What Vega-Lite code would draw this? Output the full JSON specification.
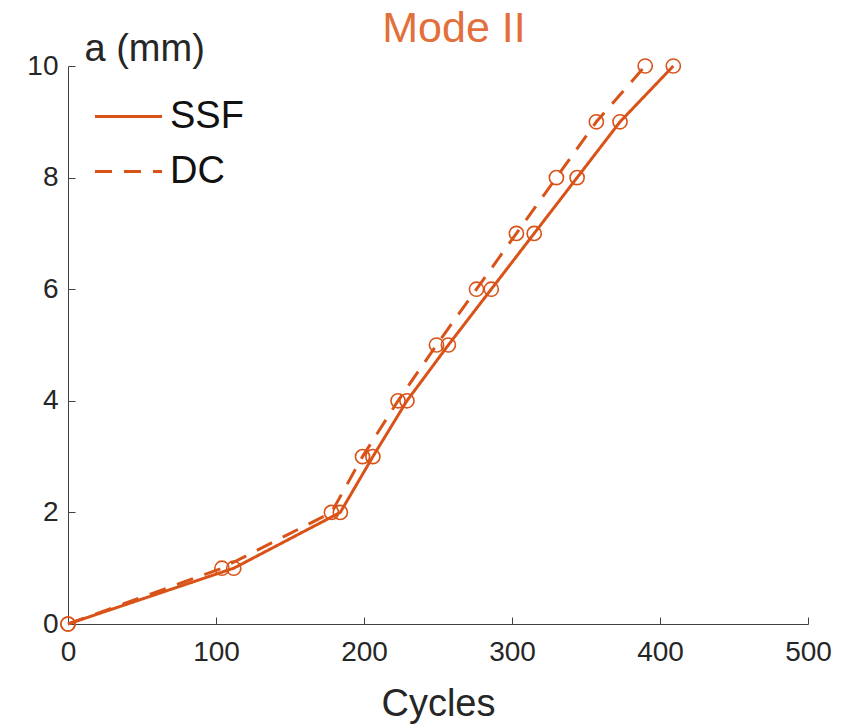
{
  "$schema": "https://vega.github.io/schema/vega-lite/v6.json",
  "width": 740,
  "height": 558,
  "autosize": {"type": "none"},
  "padding": {"left": 68, "top": 66, "right": 46, "bottom": 102},
  "background": "white",
  "title": {"text": "Mode II", "color": "#E2703A", "fontSize": 43, "font": "Liberation Sans", "fontWeight": "normal", "anchor": "middle", "dx": 16, "offset": -21},
  "config": {
    "view": {"stroke": null},
    "font": "Liberation Sans"
  },
  "data": {"values": [
    {"cycles": 0, "a": 0, "series": "SSF"},
    {"cycles": 112, "a": 1, "series": "SSF"},
    {"cycles": 184, "a": 2, "series": "SSF"},
    {"cycles": 206, "a": 3, "series": "SSF"},
    {"cycles": 229, "a": 4, "series": "SSF"},
    {"cycles": 257, "a": 5, "series": "SSF"},
    {"cycles": 286, "a": 6, "series": "SSF"},
    {"cycles": 315, "a": 7, "series": "SSF"},
    {"cycles": 344, "a": 8, "series": "SSF"},
    {"cycles": 373, "a": 9, "series": "SSF"},
    {"cycles": 409, "a": 10, "series": "SSF"},
    {"cycles": 0, "a": 0, "series": "DC"},
    {"cycles": 104, "a": 1, "series": "DC"},
    {"cycles": 178, "a": 2, "series": "DC"},
    {"cycles": 199, "a": 3, "series": "DC"},
    {"cycles": 223, "a": 4, "series": "DC"},
    {"cycles": 249, "a": 5, "series": "DC"},
    {"cycles": 276, "a": 6, "series": "DC"},
    {"cycles": 303, "a": 7, "series": "DC"},
    {"cycles": 330, "a": 8, "series": "DC"},
    {"cycles": 357, "a": 9, "series": "DC"},
    {"cycles": 390, "a": 10, "series": "DC"}
  ]},
  "encoding": {
    "x": {"field": "cycles", "type": "quantitative", "scale": {"domain": [0, 500], "nice": false, "zero": false},
      "axis": {"title": "Cycles", "values": [0, 100, 200, 300, 400, 500], "grid": false, "labelFlush": false, "labelOverlap": false, "tickSize": -7, "tickColor": "#404040", "domainColor": "#404040", "labelFontSize": 28, "labelColor": "#262626", "labelPadding": 21, "titleFontSize": 38, "titleFontWeight": "normal", "titleColor": "#262626", "titlePadding": 19, "labelFont": "Liberation Sans", "titleFont": "Liberation Sans"}},
    "y": {"field": "a", "type": "quantitative", "scale": {"domain": [0, 10], "nice": false},
      "axis": {"title": "a (mm)", "values": [0, 2, 4, 6, 8, 10], "grid": false, "labelFlush": false, "tickSize": -7, "tickColor": "#404040", "domainColor": "#404040", "labelFontSize": 28, "labelColor": "#262626", "labelPadding": 17, "titleFontSize": 38, "titleFontWeight": "normal", "titleColor": "#262626", "titleAngle": 0, "titleAlign": "left", "titleBaseline": "alphabetic", "titleX": 16, "titleY": -6, "labelFont": "Liberation Sans", "titleFont": "Liberation Sans"}}
  },
  "layer": [
    {
      "mark": {"type": "line", "color": "#D95319", "strokeWidth": 3},
      "encoding": {
        "strokeDash": {"field": "series", "type": "nominal",
          "scale": {"domain": ["SSF", "DC"], "range": [[1, 0], [17, 12]]},
          "legend": {"title": null, "orient": "none", "legendX": 25, "legendY": 15, "symbolType": "stroke", "symbolSize": 4500, "symbolStrokeWidth": 3, "symbolStrokeColor": "#D95319", "labelFontSize": 38, "labelColor": "#111111", "labelFont": "Liberation Sans", "rowPadding": 0, "labelOffset": 6}}
      }
    },
    {
      "mark": {"type": "point", "shape": "circle", "filled": false, "color": "#D95319", "size": 200, "strokeWidth": 1.6, "opacity": 1},
      "encoding": {"detail": {"field": "series", "type": "nominal"}}
    }
  ]
}
